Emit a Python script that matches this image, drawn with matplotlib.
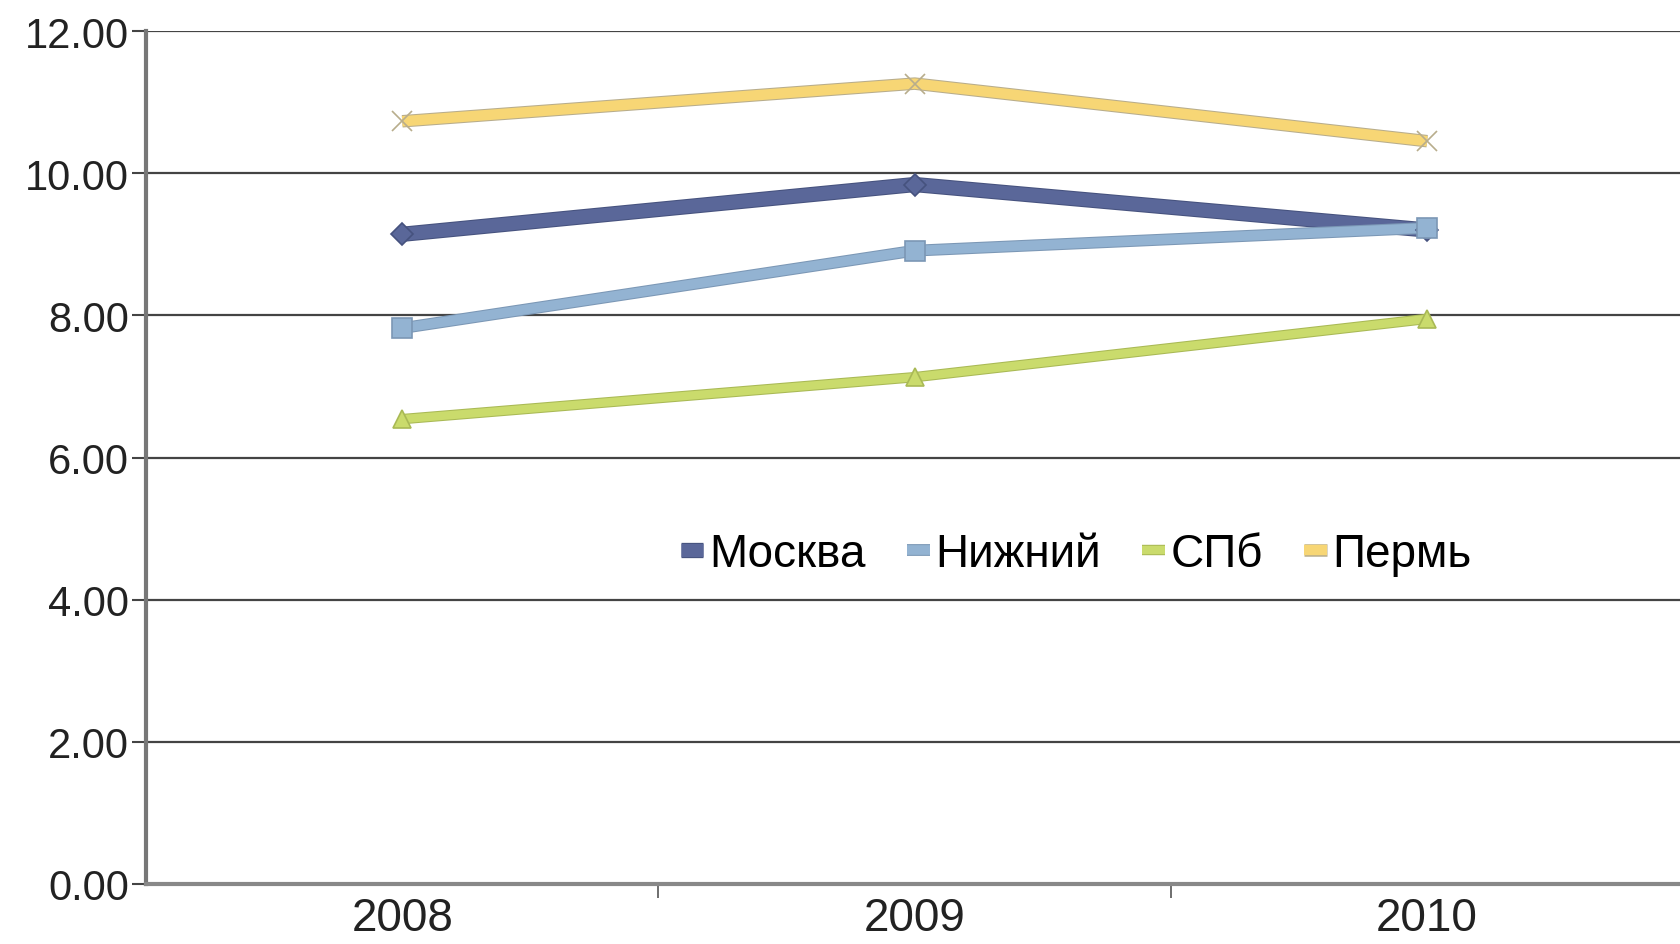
import matplotlib.pyplot as plt
import matplotlib.patheffects as pe
import numpy as np

plt.rcParams['font.family'] = ['Liberation Sans', 'DejaVu Sans']

years = ['2008', '2009', '2010']
moskva = [9.14, 9.84, 9.20]
nizhny = [7.82, 8.91, 9.23]
spb = [6.54, 7.13, 7.95]
perm = [10.73, 11.26, 10.45]

series = [
    ('Москва', moskva, '#5a6799', '#46527e', 'D', 9.5, 11),
    ('Нижний', nizhny, '#93b3d2', '#7b97b5', 's', 7, 14),
    ('СПб', spb, '#cadb6c', '#a9b955', '^', 6, 13),
    ('Пермь', perm, '#f7d675', '#b8ad8c', 'x', 7.5, 15),
]

fig = plt.figure(figsize=(16.8, 9.45), dpi=100)
ax = fig.add_axes([146 / 1680, 1 - 885 / 945, 1 - 146 / 1680 + 0.002, (885 - 32) / 945])

x = np.arange(len(years))
for name, vals, col, edge, mk, lw, ms in series:
    ax.plot(x, vals, color=col, lw=lw, label=name, solid_capstyle='butt',
            path_effects=[pe.Stroke(linewidth=lw + 1.5, foreground=edge), pe.Normal()],
            zorder=3)
    ax.plot(x, vals, ls='none', marker=mk, markersize=ms, markeredgecolor=edge,
            markerfacecolor=col, markeredgewidth=1.2, zorder=4)

ax.set_xlim(-0.5, 2.5)
ax.set_ylim(0, 12)
ax.set_yticks(np.arange(0, 13, 2))
ax.set_yticklabels([f'{v:.2f}' for v in np.arange(0, 13, 2)], fontsize=30, color='#222222')
ax.set_xticks(x)
ax.set_xticklabels(years, fontsize=33, color='#222222')
ax.set_xticks([0.5, 1.5], minor=True)
ax.tick_params(axis='x', which='major', length=0, pad=9)
ax.tick_params(axis='x', which='minor', length=10, width=1.2, color='#555555')
ax.tick_params(axis='y', length=10, width=1.5, color='#444444', pad=2)
ax.grid(axis='y', color='#444444', lw=1.6, zorder=1)
for s in ['top', 'right']:
    ax.spines[s].set_visible(False)
ax.spines['left'].set_color('#777777')
ax.spines['left'].set_linewidth(3)
ax.spines['bottom'].set_color('#888888')
ax.spines['bottom'].set_linewidth(3)

leg = ax.legend(loc='center', bbox_to_anchor=(0.605, 0.387), ncol=4, frameon=False,
                fontsize=33, handlelength=0.5, handletextpad=0.12, columnspacing=0.9)

fig.savefig('out.png', dpi=100)
